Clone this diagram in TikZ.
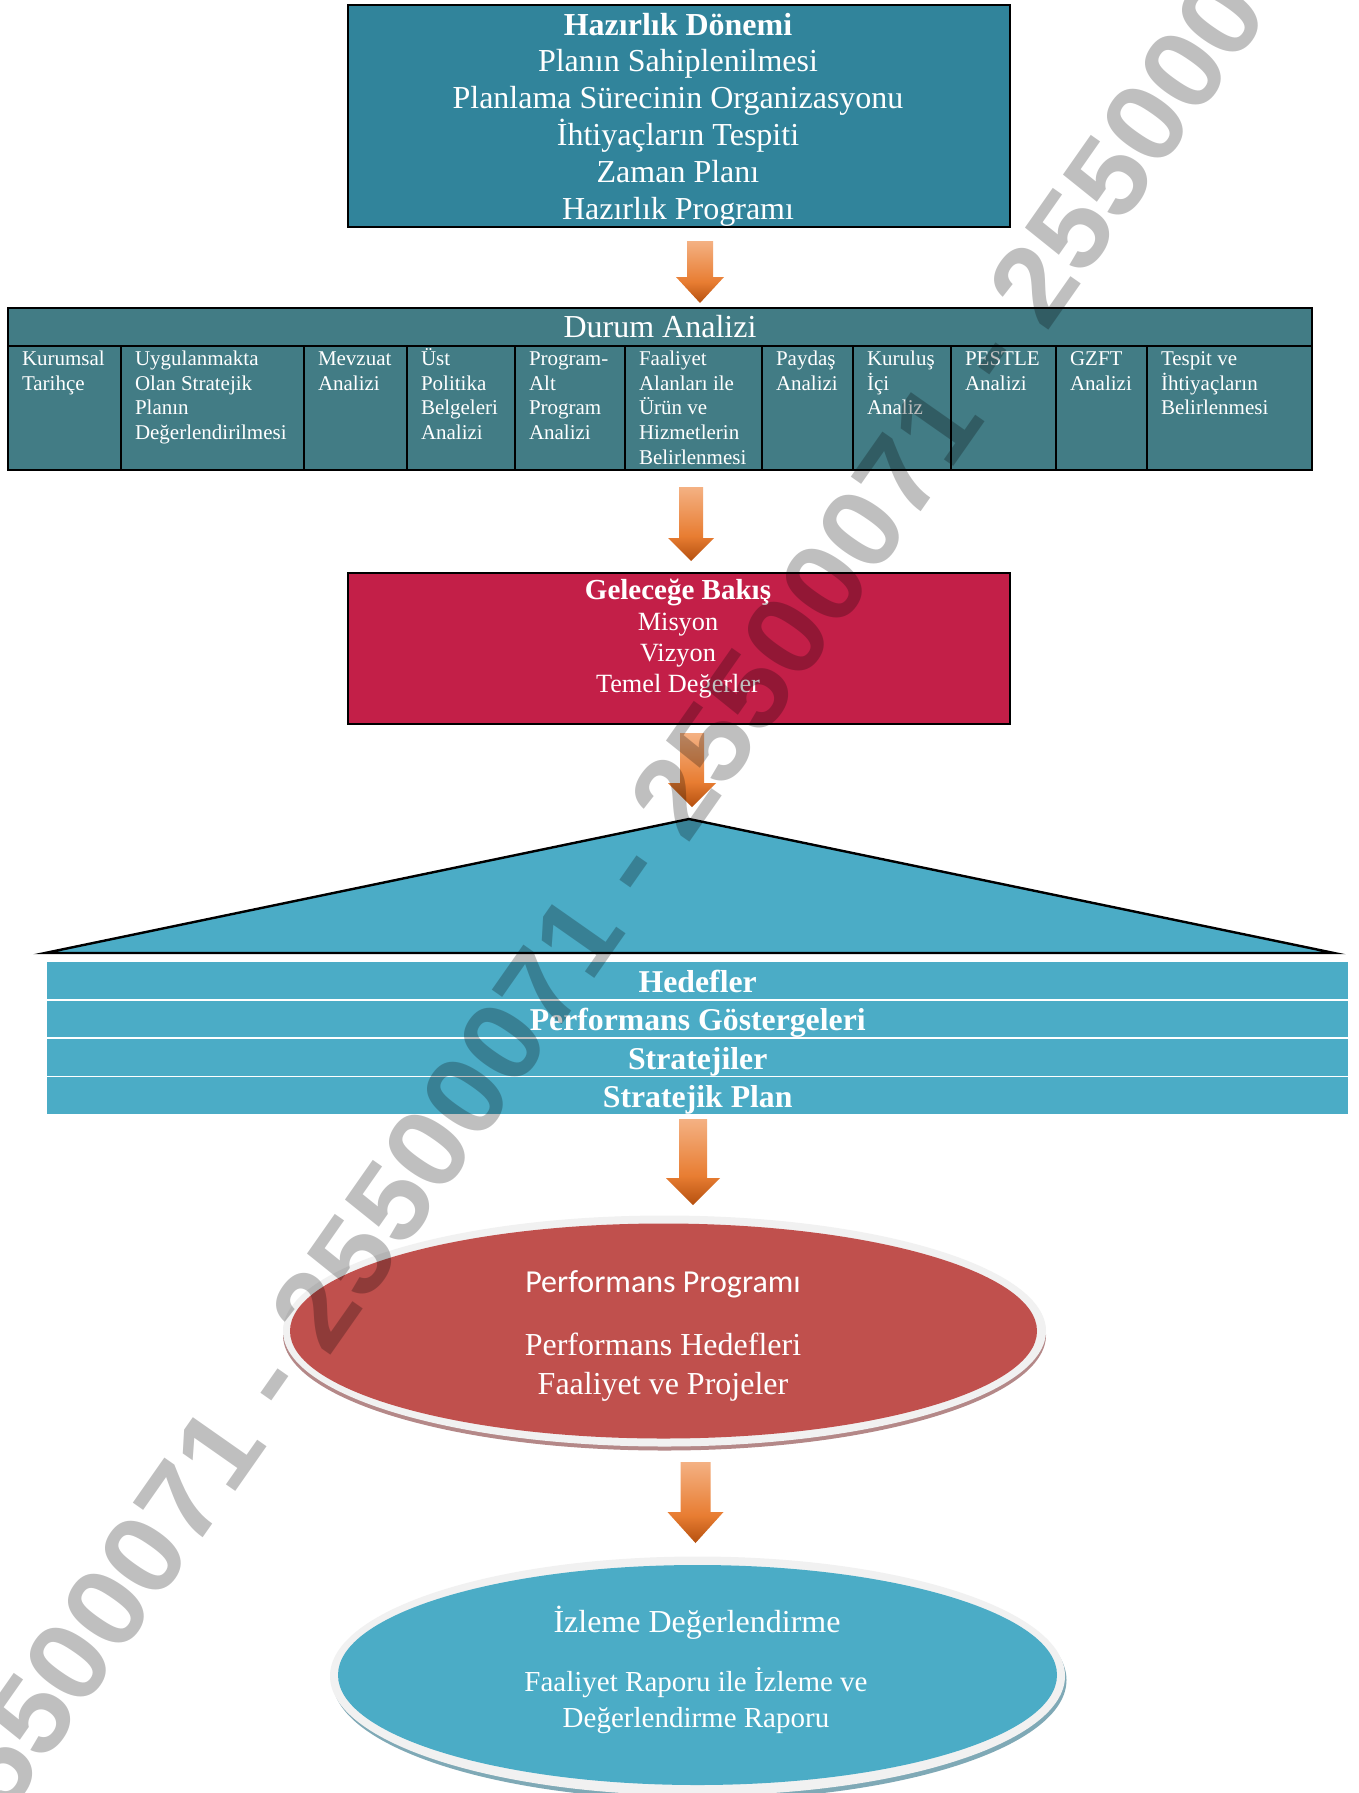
\documentclass[tikz,border=0pt]{standalone}
\usepackage{fontspec}
\setmainfont{Liberation Serif}
\newfontfamily\wmfont{Liberation Sans}
\newfontfamily\calfont{Carlito}
\usetikzlibrary{shapes.geometric}
\definecolor{topteal}{HTML}{31849B}
\definecolor{durum}{HTML}{427C85}
\definecolor{crimson}{HTML}{C31F48}
\definecolor{skyb}{HTML}{4BACC6}
\definecolor{brick}{HTML}{C0504D}
\definecolor{ring}{HTML}{F1F1F1}
\definecolor{redshadow}{HTML}{B48888}
\definecolor{blueshadow}{HTML}{7FA9B6}
\definecolor{arrdark}{HTML}{B5500F}
\definecolor{arrmid}{HTML}{E87D32}
\definecolor{arrlight}{HTML}{F4B183}
\pgfdeclareverticalshading{arrowgrad}{100bp}{color(0bp)=(arrdark);color(25bp)=(arrdark);color(42bp)=(arrmid);color(75bp)=(arrlight);color(100bp)=(arrlight)}
\newcommand{\fs}[2]{\fontsize{#1}{#2}\selectfont}
\newcommand{\blockarrow}[7]{% name, cx, top, headtop, tip, half shaft, half head
  \path[shading=arrowgrad] (#2-#6,#3) -- (#2+#6,#3) -- (#2+#6,#4) -- (#2+#7,#4) -- (#2,#5) -- (#2-#7,#4) -- (#2-#6,#4) -- (#2-#6,#3) -- cycle;
  \coordinate (#1) at (#2,#5);}
\newcommand{\cellbox}[4]{% name, x0, width, text
  \node[cellnode,anchor=north west] (#1) at (#2-1,345) {\parbox[t][124pt][t]{#3pt}{\leftskip=14pt\rightskip=0pt plus 1fil\parindent=0pt\fs{21}{24.7}\rule{0pt}{19.3pt}#4}};}
\tikzset{
  x=1pt,y=-1pt,
  boxnode/.style={draw=black,line width=2pt,inner sep=0pt,anchor=north west},
  boxtext/.style={inner sep=0pt,text=white,align=center},
  cellnode/.style={draw=black,line width=2pt,fill=durum,inner sep=0pt,text=white},
  bandnode/.style={fill=skyb,inner sep=0pt,text=white,anchor=north west,minimum width=1301pt,text height=28.5pt,text depth=5pt,font=\bfseries\fs{31.75}{36}},
  discnode/.style={ellipse,inner sep=0pt},
  disctext/.style={text=white,align=center,inner sep=0pt},
}
\begin{document}
\begin{tikzpicture}
\useasboundingbox (0,0) rectangle (1359,1793);
\fill[white] (0,0) rectangle (1359,1793);
\clip (0,0) rectangle (1359,1793);

% Hazirlik
\node[boxnode,fill=topteal,minimum width=661.5pt,minimum height=222pt] (hazirlik) at (347,4) {};
\node[boxtext,font=\fs{32}{36.8}] (hazirlikt) at (678,119.5)
 {{\bfseries Hazırlık Dönemi}\\Planın Sahiplenilmesi\\Planlama Sürecinin Organizasyonu\\İhtiyaçların Tespiti\\Zaman Planı\\Hazırlık Programı};
\blockarrow{a1}{700}{241}{277}{303}{13}{24}

% Durum
\node[boxnode,fill=durum,minimum width=1304pt,minimum height=38pt,text=white,font=\fs{32}{37}] (durum) at (7,307) {Durum Analizi};
\cellbox{c1}{8}{113}{Kurumsal\\Tarihçe}
\cellbox{c2}{121}{183}{Uygulanmakta\\Olan Stratejik\\Planın\\Değerlendirilmesi}
\cellbox{c3}{304}{103}{Mevzuat\\Analizi}
\cellbox{c4}{407}{108}{Üst\\Politika\\Belgeleri\\Analizi}
\cellbox{c5}{515}{110}{Program-\\Alt\\Program\\Analizi}
\cellbox{c6}{625}{137}{Faaliyet\\Alanları ile\\Ürün ve\\Hizmetlerin\\Belirlenmesi}
\cellbox{c7}{762}{91}{Paydaş\\Analizi}
\cellbox{c8}{853}{98}{Kuruluş\\İçi\\Analiz}
\cellbox{c9}{951}{105}{PESTLE\\Analizi}
\cellbox{c10}{1056}{91}{GZFT\\Analizi}
\cellbox{c11}{1147}{165}{Tespit ve\\İhtiyaçların\\Belirlenmesi}
\blockarrow{a2}{691}{487}{538}{561}{12}{23}

% Gelecege
\node[boxnode,fill=crimson,minimum width=661.5pt,minimum height=151pt] (gelecek) at (347,571.5) {};
\node[boxtext,font=\fs{26.3}{31}] (gelecekt) at (678,639)
 {{\bfseries\fontsize{29}{31}\selectfont Geleceğe Bakış}\\Misyon\\Vizyon\\Temel Değerler};
\blockarrow{a3}{692}{733}{783}{807}{12}{24}

% Triangle
\coordinate (apex) at (689,819);
\coordinate (bl) at (45,953);
\coordinate (br) at (1334,953);
\draw[line width=2.4pt,fill=skyb,line join=miter] (apex) -- (br) -- (bl) -- cycle;

% Bands
\node[bandnode,minimum height=37pt] (b1) at (47,962) {Hedefler};
\node[bandnode,minimum height=36pt] (b2) at (47,1001) {Performans Göstergeleri};
\node[bandnode,minimum height=37pt] (b3) at (47,1039) {Stratejiler};
\node[bandnode,minimum height=37pt] (b4) at (47,1077) {Stratejik Plan};
\blockarrow{a4}{693}{1119}{1178}{1205}{14}{27}

% Performans ellipse
\fill[redshadow] (664.5,1335) ellipse [x radius=381.5pt,y radius=115.5pt];
\node[discnode,fill=ring,minimum width=763pt,minimum height=231pt] (pring) at (664.5,1331) {};
\node[discnode,fill=brick,minimum width=747pt,minimum height=215pt] (perf) at (663.5,1331) {};
\node[disctext,font=\calfont\fs{32}{34}] (perf1) at (663,1284) {Performans Programı};
\node[disctext,font=\fs{32}{39}] (perf2) at (663,1367) {Performans Hedefleri\\Faaliyet ve Projeler};
\blockarrow{a5}{695.5}{1462}{1512}{1543}{15}{28}

% Izleme ellipse
\fill[blueshadow] (699.5,1680) ellipse [x radius=367pt,y radius=120pt];
\node[discnode,fill=ring,minimum width=735pt,minimum height=239pt] (iring) at (697.5,1676) {};
\node[discnode,fill=skyb,minimum width=719pt,minimum height=220pt] (izle) at (697.5,1675) {};
\node[disctext,font=\fs{32}{36}] (izle1) at (697,1623) {İzleme Değerlendirme};
\node[disctext,font=\fs{29}{36.6}] (izle2) at (696,1700.5) {Faaliyet Raporu ile İzleme ve\\Değerlendirme Raporu};

% Watermark
\node[inner sep=0pt,anchor=base,text=black,opacity=.25,text opacity=.25,font=\wmfont\bfseries\fontsize{117.3}{117.3}\selectfont,cm={.5736,.8192,-.782,.548,(0,0)}] (wm) at (657.8,888.4) {25500071 - 25500071 - 25500071 - 25500071};
\end{tikzpicture}
\end{document}
